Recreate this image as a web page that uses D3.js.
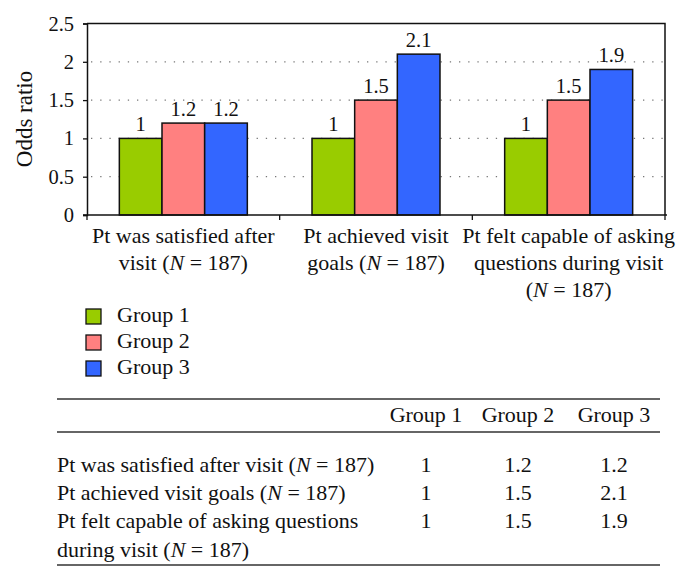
<!DOCTYPE html>
<html>
<head>
<meta charset="utf-8">
<script src="https://cdn.jsdelivr.net/npm/d3@7"></script>
<style>
  html, body { margin: 0; padding: 0; background: #fff; }
  svg { display: block; font-family: "Liberation Serif", "Times New Roman", serif; }
</style>
</head>
<body>
<svg id="chart" width="684" height="579"></svg>
<script>
// ---- data ----
const categories = [
  ["Pt was satisfied after", "visit (N = 187)"],
  ["Pt achieved visit", "goals (N = 187)"],
  ["Pt felt capable of asking", "questions during visit", "(N = 187)"]
];
const groups = ["Group 1", "Group 2", "Group 3"];
const group1Values = [1, 1, 1];
const group2Values = [1.2, 1.5, 1.5];
const group3Values = [1.2, 2.1, 1.9];
const valueLabels = [["1", "1.2", "1.2"], ["1", "1.5", "2.1"], ["1", "1.5", "1.9"]];
const yTicks = [0, 0.5, 1, 1.5, 2, 2.5];
const yTickLabels = ["0", "0.5", "1", "1.5", "2", "2.5"];
const tableRowLabels = [
  ["Pt was satisfied after visit (N = 187)"],
  ["Pt achieved visit goals (N = 187)"],
  ["Pt felt capable of asking questions", "during visit (N = 187)"]
];
const colors = ["#99cc00", "#ff8080", "#3366ff"];

const seriesValues = [group1Values, group2Values, group3Values];

// ---- helpers ----
function rich(textSel, str) {
  str.split(/(N)/).forEach(part => {
    if (!part) return;
    const t = textSel.append("tspan").text(part);
    if (part === "N") t.attr("font-style", "italic");
  });
}

const svg = d3.select("#chart");
const pLeft = 87, pRight = 665, pTop = 23.5, pBottom = 215;
const FS = 22;

const x0 = d3.scaleBand().domain(d3.range(categories.length)).range([pLeft, pRight]).paddingInner(0).paddingOuter(0);
const x1 = d3.scaleBand().domain(groups).range([0, x0.bandwidth()]).paddingInner(0).paddingOuter(0.758);
const y = d3.scaleLinear().domain([0, 2.5]).range([pBottom, pTop]);

// gridlines
svg.append("g").selectAll("line").data(yTicks.filter(v => v > 0 && v < 2.5)).join("line")
  .attr("x1", pLeft + 4).attr("x2", pRight)
  .attr("y1", d => y(d)).attr("y2", d => y(d))
  .attr("stroke", "#777").attr("stroke-width", 1.3)
  .attr("stroke-dasharray", "1.3,7.9");

// frame (top and right)
svg.append("path")
  .attr("d", `M${pLeft},${pTop}H${pRight}V${pBottom}`)
  .attr("fill", "none").attr("stroke", "#111").attr("stroke-width", 1.5);

// bars
const gCat = svg.append("g").selectAll("g").data(categories).join("g")
  .attr("transform", (d, i) => `translate(${x0(i)},0)`);
gCat.each(function(c, ci) {
  const g = d3.select(this);
  groups.forEach((gr, gi) => {
    const v = seriesValues[gi][ci];
    g.append("rect")
      .attr("x", x1(gr)).attr("width", x1.bandwidth())
      .attr("y", y(v)).attr("height", y(0) - y(v))
      .attr("fill", colors[gi]).attr("stroke", "#111").attr("stroke-width", 1.5);
    g.append("text")
      .attr("x", x1(gr) + x1.bandwidth() / 2).attr("y", y(v) - 7.5)
      .attr("text-anchor", "middle").attr("font-size", 20.5).attr("fill", "#111")
      .text(valueLabels[ci][gi]);
  });
});

// y axis
const yAxis = d3.axisLeft(y).tickValues(yTicks).tickFormat((d, i) => yTickLabels[i]).tickSize(4).tickPadding(9);
const ya = svg.append("g").attr("transform", `translate(${pLeft},0)`).call(yAxis);
ya.select(".domain").attr("stroke", "#111").attr("stroke-width", 1.5);
ya.selectAll(".tick line").attr("stroke", "#111").attr("stroke-width", 1.3);
ya.selectAll(".tick text").attr("font-size", 20.5).attr("font-family", "Liberation Serif").attr("fill", "#111");

// x axis line + boundary ticks
svg.append("line").attr("x1", pLeft - 4).attr("x2", pRight + 2).attr("y1", pBottom).attr("y2", pBottom)
  .attr("stroke", "#111").attr("stroke-width", 1.5);
svg.append("g").selectAll("line").data(d3.range(categories.length + 1)).join("line")
  .attr("x1", i => pLeft + i * x0.step()).attr("x2", i => pLeft + i * x0.step())
  .attr("y1", pBottom).attr("y2", pBottom + 5)
  .attr("stroke", "#111").attr("stroke-width", 1.3);

// category labels
categories.forEach((lines, ci) => {
  lines.forEach((ln, li) => {
    const t = svg.append("text")
      .attr("x", x0(ci) + x0.bandwidth() / 2).attr("y", 243 + li * 27)
      .attr("text-anchor", "middle").attr("font-size", FS).attr("fill", "#111");
    rich(t, ln);
  });
});

// y label
svg.append("text")
  .attr("transform", "translate(32,119) rotate(-90)")
  .attr("text-anchor", "middle").attr("font-size", 23).attr("fill", "#111")
  .text("Odds ratio");

// legend
groups.forEach((gr, gi) => {
  const yy = 322 + gi * 26;
  svg.append("rect").attr("x", 86).attr("y", yy - 13).attr("width", 15).attr("height", 15)
    .attr("fill", colors[gi]).attr("stroke", "#111").attr("stroke-width", 1.3);
  svg.append("text").attr("x", 117).attr("y", yy).attr("font-size", FS).attr("fill", "#111").text(gr);
});

// table
const tLeft = 57, tRight = 660;
[399, 432, 565].forEach(yy => {
  svg.append("line").attr("x1", tLeft).attr("x2", tRight).attr("y1", yy).attr("y2", yy)
    .attr("stroke", "#333").attr("stroke-width", 1.6);
});
const colCenters = [426, 518, 614];
groups.forEach((gr, gi) => {
  svg.append("text").attr("x", colCenters[gi]).attr("y", 422)
    .attr("text-anchor", "middle").attr("font-size", FS).attr("fill", "#111").text(gr);
});
const rowBase = [472, 500, 528];
tableRowLabels.forEach((lines, ri) => {
  lines.forEach((ln, li) => {
    const t = svg.append("text").attr("x", tLeft).attr("y", rowBase[ri] + li * 29)
      .attr("font-size", FS).attr("fill", "#111");
    rich(t, ln);
  });
  groups.forEach((gr, gi) => {
    svg.append("text").attr("x", colCenters[gi]).attr("y", rowBase[ri])
      .attr("text-anchor", "middle").attr("font-size", FS).attr("fill", "#111")
      .text(valueLabels[ri][gi]);
  });
});
</script>
</body>
</html>
